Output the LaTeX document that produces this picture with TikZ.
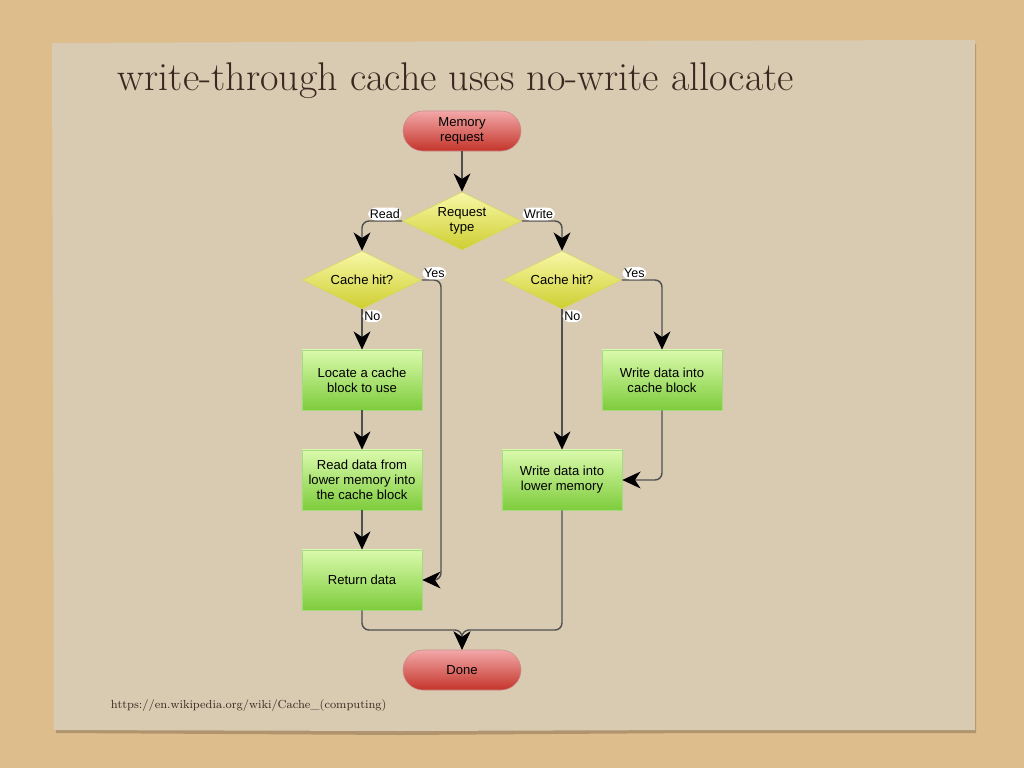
\documentclass[tikz,border=0pt]{standalone}
\usepackage{fontspec}
\newfontfamily\nodefont{Liberation Sans}
\usetikzlibrary{shapes.geometric,arrows.meta}
\definecolor{sand}{RGB}{222,189,140}
\definecolor{paper}{RGB}{216,203,178}
\definecolor{papershade}{RGB}{176,148,110}
\definecolor{ink}{RGB}{58,40,32}
\definecolor{wire}{RGB}{80,80,80}
\begin{document}
\begin{tikzpicture}[
    x=0.025cm, y=-0.025cm,
    terminal/.style={rectangle, draw=red!55!black!45, top color={rgb,255:red,242;green,168;blue,168}, bottom color={rgb,255:red,196;green,52;blue,42}, rounded corners=0.5cm, minimum width=2.95cm, minimum height=1cm, align=center, font=\nodefont\fontsize{9.3}{10.6}\selectfont},
    decision/.style={diamond, aspect=2.05, draw={rgb,255:red,214;green,214;blue,100}, top color={rgb,255:red,248;green,248;blue,168}, bottom color={rgb,255:red,206;green,206;blue,48}, inner sep=0pt, minimum width=2.975cm, minimum height=1.45cm, align=center, font=\nodefont\fontsize{9.3}{10.6}\selectfont},
    process/.style={rectangle, draw={rgb,255:red,164;green,218;blue,128}, top color={rgb,255:red,218;green,250;blue,172}, bottom color={rgb,255:red,126;green,204;blue,60}, minimum width=3cm, minimum height=1.5cm, align=center, font=\nodefont\fontsize{9.3}{10.6}\selectfont},
    label/.style={fill=white, inner sep=1.2pt, font=\nodefont\fontsize{8.9}{10}\selectfont},
    flow/.style={draw=wire, line width=1pt, rounded corners=5pt, -{Stealth[length=13pt, width=12pt, inset=4pt, black]}}
]
\useasboundingbox (0,0) rectangle (1024,768);

% background and paper
\fill[sand] (0,0) rectangle (1024,768);
\fill[papershade] (54,46) -- (976,44) -- (976,733) -- (700,733) -- (400,735) -- (56,733) -- cycle;
\fill[paper] (52,43) -- (540,41) -- (975,40) -- (975,730) -- (700,730) -- (400,731) -- (54,730) -- cycle;

\node[anchor=base west, text=ink, font=\fontsize{28.5}{32}\selectfont] (title) at (113,91) {write-through cache uses no-write allocate};
\node[anchor=base west, text=ink, font=\fontsize{8.3}{10}\selectfont] (source) at (106,708) {https://en.wikipedia.org/wiki/Cache\_(computing)};

% flowchart
\node[terminal] (memreq) at (462,131) {Memory\\request};
\node[decision] (reqtype) at (462,221) {Request\\type};
\node[decision] (readhit) at (362,280) {Cache hit?};
\node[decision] (writehit) at (562,280) {Cache hit?};
\node[process] (locate) at (362,380) {Locate a cache\\block to use};
\node[process] (readlow) at (362,480) {Read data from\\lower memory into\\the cache block};
\node[process] (retdata) at (362,580) {Return data};
\node[process] (writecache) at (662,380) {Write data into\\cache block};
\node[process] (writelow) at (562,480) {Write data into\\lower memory};
\node[terminal] (done) at (462,670) {Done};

\coordinate (yesbend) at (441,280);
\coordinate (merge) at (462,630);

\draw[flow] (memreq) -- (reqtype);
\draw[flow] (reqtype.west) node[anchor=south east, label] {Read} -| (readhit.north);
\draw[flow] (reqtype.east) node[anchor=south west, label] {Write} -| (writehit.north);
\draw[flow] (readhit.south) node[anchor=north west, label] {No} -- (locate.north);
\draw[flow] (readhit.east) node[anchor=south west, label] {Yes} -- (yesbend) |- (retdata.east);
\draw[flow] (locate) -- (readlow);
\draw[flow] (readlow) -- (retdata);
\draw[flow] (writehit.south) node[anchor=north west, label] {No} -- (writelow.north);
\draw[flow] (writehit.east) node[anchor=south west, label] {Yes} -| (writecache.north);
\draw[flow] (writecache.south) |- (writelow.east);
\draw[flow] (retdata.south) |- (merge) -- (done.north);
\draw[flow] (writelow.south) |- (merge) -- (done.north);
\end{tikzpicture}
\end{document}
